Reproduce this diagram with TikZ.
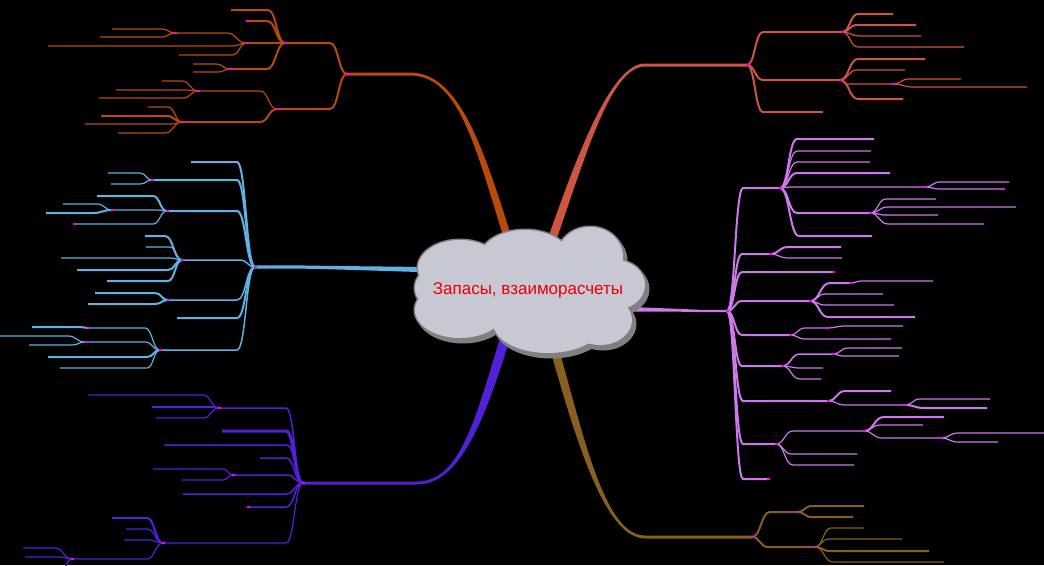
\documentclass[tikz,border=0pt]{standalone}
\usepackage{fontspec}
\newfontfamily\hubfont{Liberation Sans}
\usetikzlibrary{calc}
\definecolor{cTL}{RGB}{185,75,10}
\definecolor{cTR}{RGB}{205,85,65}
\definecolor{cL}{RGB}{95,178,225}
\definecolor{cR}{RGB}{205,120,235}
\definecolor{cBL}{RGB}{82,32,215}
\definecolor{cBR}{RGB}{135,95,30}
\definecolor{cloudfill}{RGB}{200,200,212}
\definecolor{cloudline}{RGB}{128,128,128}
\definecolor{hubred}{RGB}{235,0,0}
\definecolor{knotpink}{RGB}{255,0,255}
\tikzset{sbend/.style={to path={.. controls ($(\tikztostart)!.5!(\tikztotarget|-\tikztostart)$) and ($(\tikztotarget)!.5!(\tikztostart|-\tikztotarget)$) .. (\tikztotarget)}},
hub/.style={text=hubred, font={\hubfont\fontsize{17}{19}\selectfont}},
knot/.style={fill=knotpink}}
% one fork: #1 fork, #2 colour, #3 list y/bend x/end x/width
\newcommand{\fan}[3]{\foreach \y/\xs/\xe/\w [count=\i] in {#3}{
  \coordinate (#1-\i) at (\xe,\y);
  \draw[#2, line width=\w pt] (#1) to[sbend] (\xs,\y) -- (#1-\i);}}
% tapered main branch
\newcommand{\limb}[8]{\fill[#1] ($(#2)+(#7)$) -- ($(#3)+(#7)$) .. controls ($#4+(#7)$) and ($#5+(#8)$) .. ($(#6)+(#8)$)
  -- ($(#6)-(#8)$) .. controls ($#5-(#8)$) and ($#4-(#7)$) .. ($(#3)-(#7)$) -- ($(#2)-(#7)$) -- cycle;}
% puffs of the cloud: x/y/rx/ry
\newcommand{\puffs}{460/268/42/28, 525/258/45/28, 590/257/33/30, 615/285/30/25, 600/320/32/25,
  548/323/55/30, 460/310/45/28, 440/288/25/22, 530/290/80/40}

\begin{document}
\begin{tikzpicture}[x=1pt, y=-1pt]
	\fill[black] (0,0) rectangle (1044,565);
	\useasboundingbox (0,0) rectangle (1044,565);
	\clip (0,0) rectangle (1044,565);
	%Gabeln
	\coordinate (tl) at (347,74);  \coordinate (tlb) at (410,74);  \coordinate (tle) at (510,245);
	\coordinate (tr) at (747,65);  \coordinate (trb) at (645,65);  \coordinate (tre) at (550,245);
	\coordinate (lf) at (255,267); \coordinate (lfb) at (300,267); \coordinate (lfe) at (440,270);
	\coordinate (rt) at (727,311); \coordinate (rtb) at (700,311); \coordinate (rte) at (625,309);
	\coordinate (bl) at (303,483); \coordinate (blb) at (417,483); \coordinate (ble) at (506,335);
	\coordinate (br) at (752,537); \coordinate (brb) at (645,537); \coordinate (bre) at (552,340);
	%oben links
	\fan{tl}{cTL}{43/330/285/2, 109/330/277/2}
	\fan{tl-1}{cTL}{10/268/231/2, 21/267/247/2, 43/275/246/2, 69/267/230/2}
	\fan{tl-1-3}{cTL}{33/227/175/1.2, 46/233/48/1.2, 55/233/179/1.2}
	\fan{tl-1-3-1}{cTL}{29/162/112/1.2, 37/162/100/1.2}
	\fan{tl-1-4}{cTL}{64/216/193/1.2, 72/218/193/1.2}
	\fan{tl-2}{cTL}{91/260/198/1.2, 122/260/182/2}
	\fan{tl-2-1}{cTL}{81/182/162/1.2, 90/187/116/1.2, 98/183/99/1.2}
	\fan{tl-2-2}{cTL}{107/168/148/1.2, 116/167/101/2, 124/173/85/1.2, 133/165/118/1.2}
	%oben rechts
	\fan{tr}{cTR}{32/763/842/2, 80/763/840/2, 112/763/823/2}
	\fan{tr-1}{cTR}{14/858/893/2, 25/857/916/2, 36/860/921/1.2, 47/858/964/1.2}
	\fan{tr-2}{cTR}{59/858/925/2, 70/857/905/1.2, 84/847/893/1.2, 99/858/903/2}
	\fan{tr-2-3}{cTR}{79/909/961/1.2, 87/913/1027/1.2}
	%links
	\fan{lf}{cL}{162/237/191/2, 180/237/152/2, 211/237/167/2, 260/240/182/1.5, 300/237/168/1.5, 318/237/177/2, 350/237/160/1.5}
	\fan{lf-2}{cL}{173/140/108/1.2, 184/140/111/1.2}
	\fan{lf-3}{cL}{196/153/97/2, 210/158/112/1.2, 224/153/74/1.2}
	\fan{lf-3-2}{cL}{204/97/63/1.2, 213/93/46/2}
	\fan{lf-4}{cL}{236/165/145/2, 247/170/146/1.2, 258/170/61/1.2, 270/168/77/2, 281/168/107/2}
	\fan{lf-5}{cL}{293/155/95/2, 304/155/88/2}
	\fan{lf-7}{cL}{328/145/88/1.2, 342/145/85/1.2, 357/147/48/2, 368/147/60/1.2}
	\fan{lf-7-1}{cL}{327/80/32/2}
	\fan{lf-7-2}{cL}{336/68/0/1.2, 345/72/29/1.2}
	%rechts
	\fan{rt}{cR}{188/743/780/2, 254/742/770/2, 272/742/833/2, 301/742/810/2, 335/742/790/2, 366/742/782/2, 401/743/828/2, 444/743/776/2, 479/743/768/2}
	\fan{rt-1}{cR}{139/797/874/2, 151/797/871/1.2, 162/797/870/1.2, 173/797/890/2, 187/790/925/1.2, 213/797/870/2, 236/799/872/2}
	\fan{rt-1-5}{cR}{182/940/1009/1.2, 189/940/1003/1.2}
	\fan{rt-1-6}{cR}{199/886/936/1.2, 207/888/1016/1.2, 215/886/938/1.2, 224/888/984/1.2}
	\fan{rt-2}{cR}{247/788/841/2, 258/788/842/1.2}
	\fan{rt-4}{cR}{283/830/850/2, 294/825/883/1.2, 305/825/894/1.2, 317/828/915/2}
	\fan{rt-4-1}{cR}{281/862/933/1.2}
	\fan{rt-5}{cR}{328/805/827/1.2, 339/805/891/1.2}
	\fan{rt-5-1}{cR}{326/845/903/1.2}
	\fan{rt-6}{cR}{354/800/833/1.5, 368/800/823/1.2, 379/800/821/1.2}
	\fan{rt-6-1}{cR}{348/848/902/1.2, 356/843/899/1.2}
	\fan{rt-7}{cR}{391/845/891/2, 405/845/905/1.2}
	\fan{rt-7-2}{cR}{399/920/990/1.2, 408/924/987/2}
	\fan{rt-8}{cR}{431/793/864/1.2, 454/791/857/1.2, 465/793/854/1.2}
	\fan{rt-8-1}{cR}{417/884/944/2, 425/880/923/1.2, 438/882/941/1.2}
	\fan{rt-8-1-3}{cR}{433/958/1044/1.2, 442/958/998/1.2}
	%unten links
	\fan{bl}{cBL}{408/286/219/1.5, 431/286/222/3, 445/287/164/1.5, 458/286/260/1.5, 475/287/233/1.5, 494/286/183/1.5, 507/286/248/1.5, 543/286/163/1.2}
	\fan{bl-1}{cBL}{395/203/88/1.2, 407/213/152/2, 418/203/156/1.2}
	\fan{bl-5}{cBL}{469/223/153/1.2, 480/223/182/1.2}
	\fan{bl-8}{cBL}{518/147/112/2, 529/147/126/1.2, 540/148/124/1.2, 559/147/72/1.2}
	\fan{bl-8-4}{cBL}{548/55/23/1.2, 557/60/25/1.2, 572/60/20/1.2}
	%unten rechts
	\fan{br}{cBR}{512/770/797/2, 547/768/815/2}
	\fan{br-1}{cBR}{506/812/864/2, 517/812/853/2}
	\fan{br-2}{cBR}{528/831/864/1.2, 539/828/902/1.2, 551/830/929/2, 562/833/944/1.2}
	%Hauptaeste
	\limb{cTL}{tl}{tlb}{(460,74)}{(480,150)}{tle}{0,-1.5}{4,0}
	\limb{cTR}{tr}{trb}{(610,65)}{(580,160)}{tre}{0,-1.5}{-4.5,0}
	\limb{cL}{lf}{lfb}{(350,268)}{(400,269)}{lfe}{0,-1.6}{0,-2.6}
	\limb{cR}{rt}{rtb}{(680,310)}{(650,310)}{rte}{0,-1.2}{0,-2.2}
	\limb{cBL}{bl}{blb}{(460,483)}{(480,420)}{ble}{0,1.5}{5,0}
	\limb{cBR}{br}{brb}{(605,537)}{(580,440)}{bre}{0,1.5}{-4.5,0}
	%Marken
	\foreach \k in {tl, tl-1, tl-2, tl-1-3, tl-1-4, tl-1-3-1, tl-2-1, tl-2-2, tr, tr-1, tr-2, tr-2-3,
		lf, lf-2, lf-3, lf-3-2, lf-4, lf-5, lf-7, lf-7-1, lf-7-2, rt, rt-1, rt-1-5, rt-1-6, rt-2, rt-4,
		rt-4-1, rt-5, rt-5-1, rt-6, rt-6-1, rt-7, rt-7-2, rt-8, rt-8-1, rt-8-1-3, bl, bl-1, bl-5, bl-8,
		bl-8-4, br, br-1, br-2, tl-1-2, lf-3-3, rt-3, rt-1-5-2, rt-9, bl-7}
		\fill[knot] ($(\k)+(-1.5,-1)$) rectangle ++(3,2);
	%Wolke: Schatten, Rand, Flaeche
	\foreach \cx/\cy/\rx/\ry in \puffs
		\fill[cloudline] (\cx+3,\cy+4) ellipse [x radius=\rx+1.5, y radius=\ry+1.5];
	\foreach \cx/\cy/\rx/\ry in \puffs
		\draw[cloudline, line width=3pt] (\cx,\cy) ellipse [x radius=\rx, y radius=\ry];
	\foreach \cx/\cy/\rx/\ry in \puffs
		\fill[cloudfill] (\cx,\cy) ellipse [x radius=\rx, y radius=\ry];
	\node[hub] (hub) at (528,290) {Запасы, взаиморасчеты};
\end{tikzpicture}
\end{document}
